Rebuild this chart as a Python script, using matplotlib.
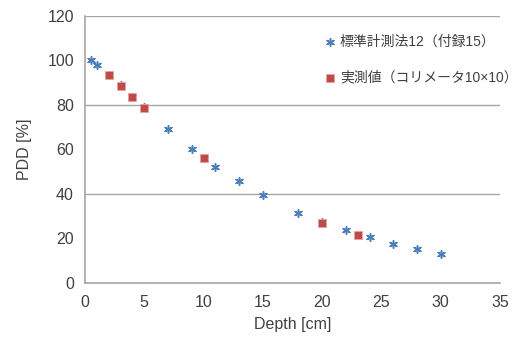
import matplotlib
matplotlib.use("Agg")
import matplotlib.pyplot as plt

plt.rcParams['font.family'] = ['Liberation Sans', 'Noto Sans CJK JP', 'DejaVu Sans']

std_depth = [0.5, 1, 2, 3, 4, 5, 7, 9, 10, 11, 13, 15, 18, 20, 22, 24, 26, 28, 30]
std_pdd = [100.0, 98.0, 93.5, 88.8, 83.6, 78.9, 69.2, 60.2, 56.3, 52.2, 45.6, 39.3, 31.5, 27.2, 23.7, 20.6, 17.6, 15.3, 12.9]
meas_depth = [2, 3, 4, 5, 10, 20, 23]
meas_pdd = [93.6, 88.7, 83.6, 78.8, 56.3, 27.0, 21.3]

std_label = '標準計測法12（付録15）'
meas_label = '実測値（コリメータ10×10）'
x_ticks = [0, 5, 10, 15, 20, 25, 30, 35]
y_ticks = [0, 20, 40, 60, 80, 100, 120]
grid_y = [40, 80, 120]

fig = plt.figure(figsize=(5.2, 3.39), dpi=100)
ax = fig.add_axes([0.1635, 0.166, 0.798, 0.787])

gray = '#a6a6a6'
text_c = '#404040'
ax.scatter(std_depth, std_pdd, marker=(6, 2, 0), s=30, color='#4a7ebb', linewidths=1.1, label=std_label, zorder=3)
ax.scatter(meas_depth, meas_pdd, marker='s', s=26, color='#be4b48', edgecolors='#e8a3a1', linewidths=0.6, label=meas_label, zorder=4)

for g in grid_y:
    ax.axhline(g, color=gray, linewidth=1.0, zorder=1)

ax.set_xlim(0, 35)
ax.set_ylim(0, 120)
ax.set_xticks(x_ticks)
ax.set_yticks(y_ticks)
ax.tick_params(length=0, labelsize=11.5, colors=text_c)
ax.tick_params(axis='x', pad=9)
ax.tick_params(axis='y', pad=8)

for s in ['top', 'right']:
    ax.spines[s].set_visible(False)
for s in ['left', 'bottom']:
    ax.spines[s].set_color(gray)
    ax.spines[s].set_linewidth(1.2)

ax.set_xlabel('Depth [cm]', fontsize=11.5, color=text_c, labelpad=5)
ax.set_ylabel('PDD [%]', fontsize=11.5, color=text_c, labelpad=11)

leg = fig.legend(loc='upper left', bbox_to_anchor=(0.615, 0.915), frameon=False,
                 fontsize=10, handlelength=0.6, handletextpad=0.45, labelspacing=1.6,
                 borderaxespad=0, labelcolor=text_c)

fig.savefig('out.png', dpi=100, facecolor='white')
